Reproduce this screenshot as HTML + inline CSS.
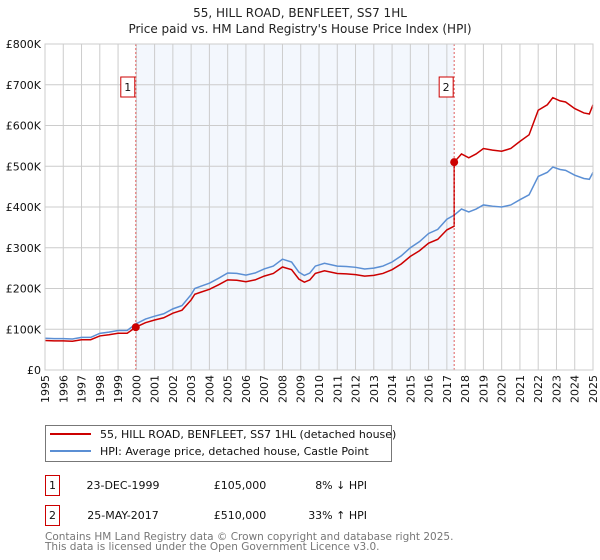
<!DOCTYPE html>
<html><head><meta charset="utf-8"><style>
body{margin:0;background:#fff;font-family:"DejaVu Sans","Liberation Sans",sans-serif;}
svg{display:block}
</style></head><body>
<svg id="c" width="600" height="560" font-family="DejaVu Sans, Liberation Sans, sans-serif">
<text x="300" y="17" text-anchor="middle" font-size="12" fill="#222">55, HILL ROAD, BENFLEET, SS7 1HL</text>
<text x="300" y="33" text-anchor="middle" font-size="12" fill="#222">Price paid vs. HM Land Registry's House Price Index (HPI)</text>
<g id="plot"></g>
<g>
<rect x="45.5" y="425.5" width="346" height="36" fill="#fff" stroke="#777"/>
<line x1="50" y1="434" x2="91" y2="434" stroke="#cc0000" stroke-width="2"/>
<text x="100" y="438" font-size="11" fill="#111">55, HILL ROAD, BENFLEET, SS7 1HL (detached house)</text>
<line x1="50" y1="451" x2="91" y2="451" stroke="#5b8fd4" stroke-width="2"/>
<text x="100" y="455" font-size="11" fill="#111">HPI: Average price, detached house, Castle Point</text>
</g>
<g font-size="11" fill="#111">
<rect x="45.5" y="475.5" width="14" height="20" fill="none" stroke="#cc0000"/>
<text x="52.5" y="489" text-anchor="middle">1</text>
<text x="123" y="489" text-anchor="middle">23-DEC-1999</text>
<text x="240" y="489" text-anchor="middle">£105,000</text>
<text x="367" y="489" text-anchor="end">8% ↓ HPI</text>
<rect x="45.5" y="505.5" width="14" height="20" fill="none" stroke="#cc0000"/>
<text x="52.5" y="519" text-anchor="middle">2</text>
<text x="123" y="519" text-anchor="middle">25-MAY-2017</text>
<text x="240" y="519" text-anchor="middle">£510,000</text>
<text x="367" y="519" text-anchor="end">33% ↑ HPI</text>
</g>
<text x="45" y="540" font-size="10.5" fill="#777">Contains HM Land Registry data © Crown copyright and database right 2025.</text>
<text x="45" y="550" font-size="10.5" fill="#777">This data is licensed under the Open Government Licence v3.0.</text>
</svg>
<script>
const hpiYears=[1995,1995.5,1996,1996.5,1997,1997.5,1998,1998.5,1999,1999.5,1999.97,2000.5,2001,2001.5,2002,2002.5,2003,2003.2,2003.5,2004,2004.5,2005,2005.5,2006,2006.5,2007,2007.5,2008,2008.5,2008.9,2009.2,2009.5,2009.8,2010.3,2011,2011.5,2012,2012.5,2013,2013.5,2014,2014.5,2015,2015.5,2016,2016.5,2017,2017.4,2017.8,2018.2,2018.6,2019,2019.5,2020,2020.5,2021,2021.5,2022,2022.5,2022.8,2023.2,2023.5,2024,2024.5,2024.8,2025];
const hpiValues=[78,77,77,76,80,80,90,93,97,97,113,125,132,138,150,158,185,200,205,213,225,238,237,233,238,248,255,272,265,240,232,238,255,262,255,254,252,248,250,255,265,280,300,315,335,345,370,380,395,388,395,405,402,400,405,418,430,475,485,498,492,490,478,470,468,485];
const saleYears=[1999.97,2017.4];
const salePrices=[105,510];
const saleLabels=["1","2"];
const yTicks=[0,100,200,300,400,500,600,700,800];
const yTickLabels=["£0","£100K","£200K","£300K","£400K","£500K","£600K","£700K","£800K"];
const xTicks=[1995,1996,1997,1998,1999,2000,2001,2002,2003,2004,2005,2006,2007,2008,2009,2010,2011,2012,2013,2014,2015,2016,2017,2018,2019,2020,2021,2022,2023,2024,2025];

const L=45,R=593,T=44,B=370;
const X=v=>L+(v-1995)/(2025-1995)*(R-L);
const Y=v=>B-v/800*(B-T);
const g=document.getElementById('plot');
const NS='http://www.w3.org/2000/svg';
function mk(t,a,p){const e=document.createElementNS(NS,t);for(const k in a)e.setAttribute(k,a[k]);(p||g).appendChild(e);return e;}
function hpiAt(y){for(let i=1;i<hpiYears.length;i++){if(y<=hpiYears[i]){const f=(y-hpiYears[i-1])/(hpiYears[i]-hpiYears[i-1]);return hpiValues[i-1]+f*(hpiValues[i]-hpiValues[i-1]);}}return hpiValues[hpiValues.length-1];}

let sh=mk('rect',{x:X(saleYears[0]),y:T,width:X(saleYears[1])-X(saleYears[0]),height:B-T,fill:'#eef3fc',opacity:0.7});


xTicks.forEach(t=>{let l=mk('line',{x1:X(t),x2:X(t),y1:T,y2:B,stroke:'#ccc'});


const tx0=X(t)+4,ty0=B+5;
let tx=mk('text',{x:tx0,y:ty0,'font-size':11,fill:'#111','text-anchor':'end',transform:'rotate(-90 '+tx0+' '+ty0+')'});tx.textContent=t;

});
yTicks.forEach((t,i)=>{let l=mk('line',{x1:L,x2:R,y1:Y(t),y2:Y(t),stroke:'#ccc'});


let tx=mk('text',{x:L-4,y:Y(t)+4,'font-size':11,fill:'#111','text-anchor':'end'});tx.textContent=yTickLabels[i];

});
let pts=[];
hpiYears.forEach((yr,i)=>{let idx=yr<saleYears[1]?0:1;let ratio=salePrices[idx]/hpiAt(saleYears[idx]);
if(i>0&&hpiYears[i-1]<saleYears[1]&&yr>=saleYears[1]){let r0=salePrices[0]/hpiAt(saleYears[0]);pts.push([X(saleYears[1]),Y(hpiAt(saleYears[1])*r0)]);pts.push([X(saleYears[1]),Y(salePrices[1])]);}
pts.push([X(yr),Y(hpiValues[i]*ratio)]);});
let hp=mk('polyline',{points:hpiYears.map((y,i)=>X(y)+','+Y(hpiValues[i])).join(' '),fill:'none',stroke:'#5b8fd4','stroke-width':1.5});


let pp=mk('polyline',{points:pts.map(p=>p.join(',')).join(' '),fill:'none',stroke:'#cc0000','stroke-width':1.5});


saleYears.forEach((y,i)=>{
let vl=mk('line',{x1:X(y),x2:X(y),y1:T,y2:B,stroke:'#e06060','stroke-dasharray':'2,2'});


let c=mk('circle',{cx:X(y),cy:Y(salePrices[i]),r:4,fill:'#cc0000'});


let b=mk('rect',{x:X(y)-15,y:77,width:14,height:20,fill:'#fff',stroke:'#cc0000'});


let t=mk('text',{x:X(y)-8,y:91,'font-size':11,'text-anchor':'middle',fill:'#111'});t.textContent=saleLabels[i];

});
let ax=mk('rect',{x:L,y:T,width:R-L,height:B-T,fill:'none',stroke:'#ccc'});


</script>
</body></html>
